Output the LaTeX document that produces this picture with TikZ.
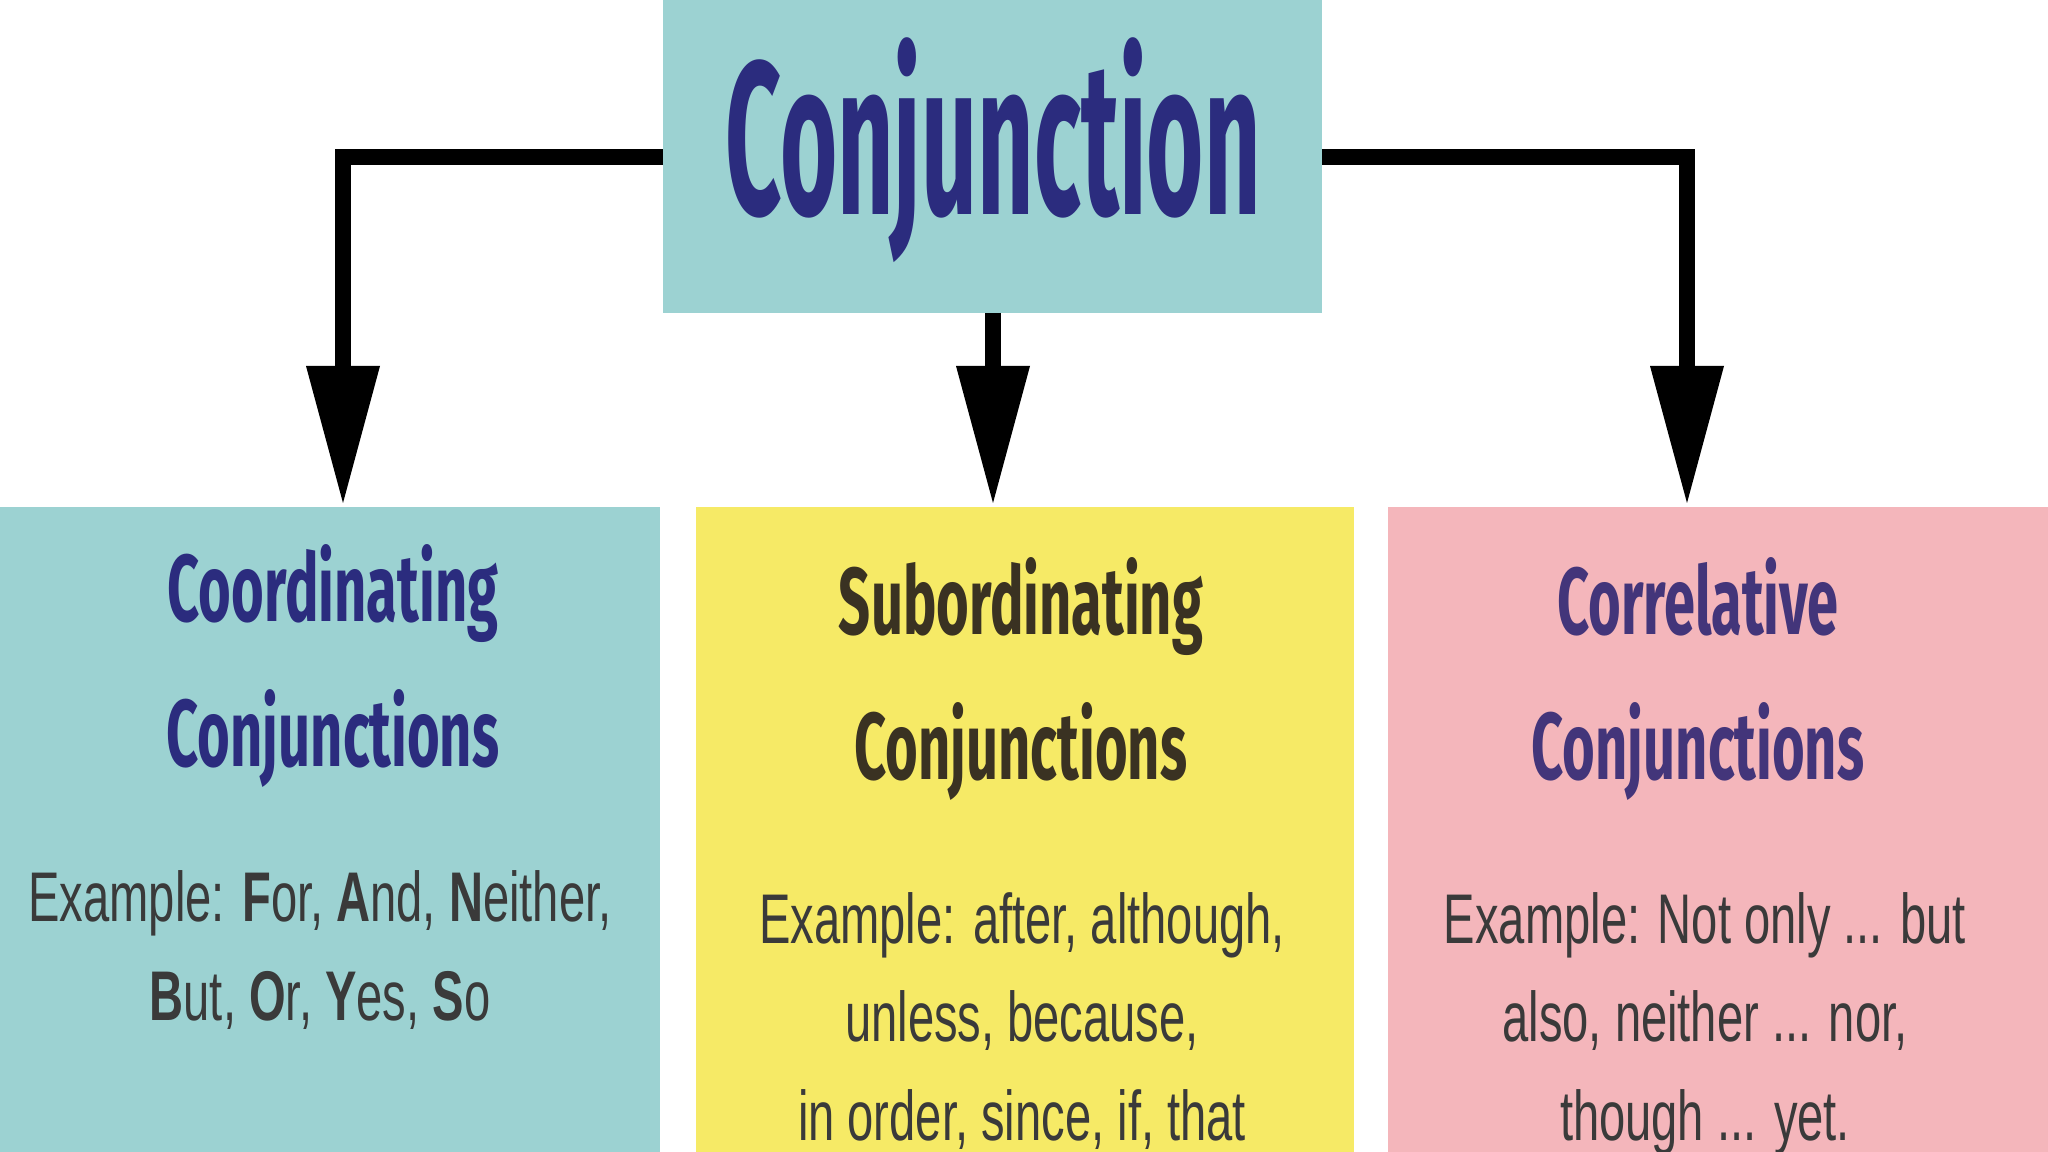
\documentclass[tikz,border=0pt]{standalone}
\usepackage{fontspec}
\setmainfont{Liberation Sans}
\newfontfamily\headfont{Fira Sans}
\definecolor{teal1}{HTML}{9CD2D2}
\definecolor{yel1}{HTML}{F6EA66}
\definecolor{pink1}{HTML}{F4B6BB}
\definecolor{navy1}{HTML}{2B2C7E}
\definecolor{brown1}{HTML}{3A3222}
\definecolor{purp1}{HTML}{43357A}
\definecolor{txt1}{HTML}{3A3A3A}
\tikzset{
  boxa/.style={draw=none,inner sep=0},
  conn/.style={line width=4.5pt,black},
  tri/.style={fill=black,draw=none},
  head/.style={font=\headfont\bfseries\fontsize{27}{41}\selectfont,align=center},
  ex/.style={font=\fontsize{20}{28}\selectfont,align=center,text=txt1}
}
\newcommand{\sq}[2][0.59]{\scalebox{#1}[1]{#2}}
\begin{document}
\begin{tikzpicture}[x=0.01cm,y=-0.01cm]
\useasboundingbox (0,0) rectangle (2048,1152);
\fill[white] (0,0) rectangle (2048,1152);
% boxes
\fill[teal1] (663,0) rectangle (1322,313);
\fill[teal1] (0,507) rectangle (660,1152);
\fill[yel1] (696,507) rectangle (1354,1152);
\fill[pink1] (1388,507) rectangle (2048,1152);
\node[boxa] (top) at (992,157) {};
\node[font=\headfont\bfseries\fontsize{62}{64}\selectfont,text=navy1] (ttl) at (993,150) {\sq[0.45]{Conjunction}};
% connectors
\coordinate (tl) at (663,157);
\coordinate (tr) at (1322,157);
\coordinate (lk) at (343,157);
\coordinate (rk) at (1687,157);
\coordinate (la) at (343,370);
\coordinate (ma0) at (993,313);
\coordinate (ma) at (993,370);
\coordinate (ra) at (1687,370);
\draw[conn] (tl) -- (lk) -- (la);
\draw[conn] (tr) -- (rk) -- (ra);
\draw[conn] (ma0) -- (ma);
\foreach \x in {343,993,1687}{
  \fill[tri] (\x-37,366) -- (\x+37,366) -- (\x,503) -- cycle;
}
% titles
\node[head,text=navy1] (h1) at (333,666) {\sq{Coordinating}\\\sq{Conjunctions}};
\node[head,text=brown1] (h2) at (1021,679) {\sq{Subordinating}\\\sq{Conjunctions}};
\node[head,text=purp1] (h3) at (1698,679) {\sq{Correlative}\\\sq{Conjunctions}};
% examples
\node[ex] (e1) at (320,950) {\sq[0.67]{Example: \textbf{F}or, \textbf{A}nd, \textbf{N}either,}\\\sq[0.67]{\textbf{B}ut, \textbf{O}r, \textbf{Y}es, \textbf{S}o}};
\node[ex,anchor=north] (e2) at (1022,880) {\sq[0.67]{Example: after, although,}\\\sq[0.67]{unless, because,}\\\sq[0.67]{in order, since, if, that}};
\node[ex,anchor=north] (e3) at (1705,880) {\sq[0.67]{Example: Not only ... but}\\\sq[0.67]{also, neither ... nor,}\\\sq[0.67]{though ... yet.}};
\end{tikzpicture}
\end{document}
